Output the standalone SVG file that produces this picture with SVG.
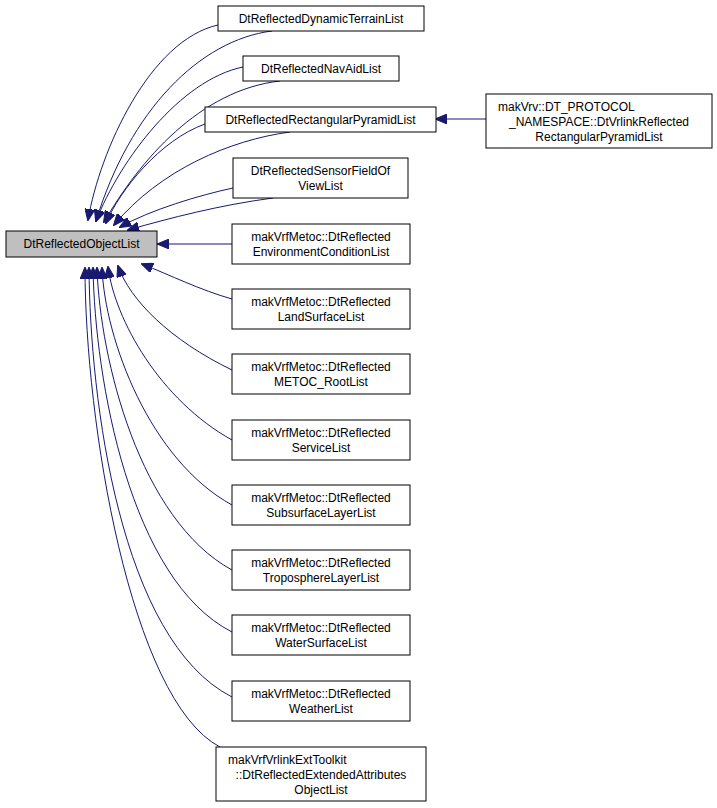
<svg xmlns="http://www.w3.org/2000/svg" width="717" height="808" viewBox="0 0 717 808">
<style>
.n rect{fill:#fff;stroke:#000;stroke-width:1}
.r rect{fill:#bfbfbf}
text{font-family:"Liberation Sans",Arial,sans-serif;font-size:12px;text-anchor:middle;fill:#000}
#edges path{fill:none;stroke:#191970;stroke-width:1;marker-end:url(#a)}
</style>
<defs>
<marker id="a" markerWidth="12" markerHeight="10" refX="11" refY="5" orient="auto" markerUnits="userSpaceOnUse">
<polygon points="0,0 12,5 0,10" fill="#191970" stroke="#191970"/>
</marker>
</defs>
<rect width="717" height="808" fill="#fff"/>
<g id="edges">
<path d="M218,25 C150,40 100,150 88,220"/>
<path d="M272,31 C200,40 130,110 96,221"/>
<path d="M243,67 C180,80 120,160 96,221"/>
<path d="M280,81 C200,90 140,160 104,222"/>
<path d="M205,124 C160,140 120,190 106,223"/>
<path d="M290,132 C230,140 160,170 114,225"/>
<path d="M233,188 C200,195 150,210 120,227"/>
<path d="M273,198 C220,205 170,218 128,230"/>
<path d="M232,244 L158,244"/>
<path d="M232,299 C200,290 170,275 142,264"/>
<path d="M232,370 C170,340 130,300 118,266"/>
<path d="M232,440 C160,400 115,320 108,267"/>
<path d="M232,505 C150,460 105,340 102,268"/>
<path d="M232,570 C140,520 100,360 97,268"/>
<path d="M232,632 C130,580 95,380 93,268"/>
<path d="M232,697 C120,640 90,400 89,268"/>
<path d="M220,747 C130,700 85,420 85,268"/>
<path d="M486,119 L436,119"/>
</g>
<g id="root" class="n r"><rect x="6" y="231" width="151" height="26"/><text x="81.5" y="248">DtReflectedObjectList</text></g>
<g id="n1" class="n"><rect x="218" y="6" width="206" height="25"/><text x="321" y="23">DtReflectedDynamicTerrainList</text></g>
<g id="n2" class="n"><rect x="243" y="56" width="156" height="25"/><text x="321" y="73">DtReflectedNavAidList</text></g>
<g id="n3" class="n"><rect x="205" y="107" width="231" height="25"/><text x="320.5" y="124">DtReflectedRectangularPyramidList</text></g>
<g id="n4" class="n"><rect x="233" y="158" width="175" height="40"/><text x="320.5" y="175">DtReflectedSensorFieldOf</text><text x="320.5" y="190">ViewList</text></g>
<g id="n5" class="n"><rect x="232" y="224" width="178" height="40"/><text x="321" y="241">makVrfMetoc::DtReflected</text><text x="321" y="256">EnvironmentConditionList</text></g>
<g id="n6" class="n"><rect x="232" y="289" width="178" height="40"/><text x="321" y="306">makVrfMetoc::DtReflected</text><text x="321" y="321">LandSurfaceList</text></g>
<g id="n7" class="n"><rect x="232" y="354" width="178" height="40"/><text x="321" y="371">makVrfMetoc::DtReflected</text><text x="321" y="386">METOC_RootList</text></g>
<g id="n8" class="n"><rect x="232" y="420" width="178" height="40"/><text x="321" y="437">makVrfMetoc::DtReflected</text><text x="321" y="452">ServiceList</text></g>
<g id="n9" class="n"><rect x="232" y="485" width="178" height="40"/><text x="321" y="502">makVrfMetoc::DtReflected</text><text x="321" y="517">SubsurfaceLayerList</text></g>
<g id="n10" class="n"><rect x="232" y="550" width="178" height="40"/><text x="321" y="567">makVrfMetoc::DtReflected</text><text x="321" y="582">TroposphereLayerList</text></g>
<g id="n11" class="n"><rect x="232" y="615" width="178" height="40"/><text x="321" y="632">makVrfMetoc::DtReflected</text><text x="321" y="647">WaterSurfaceList</text></g>
<g id="n12" class="n"><rect x="232" y="681" width="178" height="40"/><text x="321" y="698">makVrfMetoc::DtReflected</text><text x="321" y="713">WeatherList</text></g>
<g id="n13" class="n"><rect x="216" y="747" width="210" height="54"/><text x="228" y="764" style="text-anchor:start">makVrfVrlinkExtToolkit</text><text x="321" y="779">::DtReflectedExtendedAttributes</text><text x="321" y="794">ObjectList</text></g>
<g id="n14" class="n"><rect x="486" y="94" width="226" height="54"/><text x="498" y="111" style="text-anchor:start">makVrv::DT_PROTOCOL</text><text x="599" y="126">_NAMESPACE::DtVrlinkReflected</text><text x="599" y="141">RectangularPyramidList</text></g>
</svg>
